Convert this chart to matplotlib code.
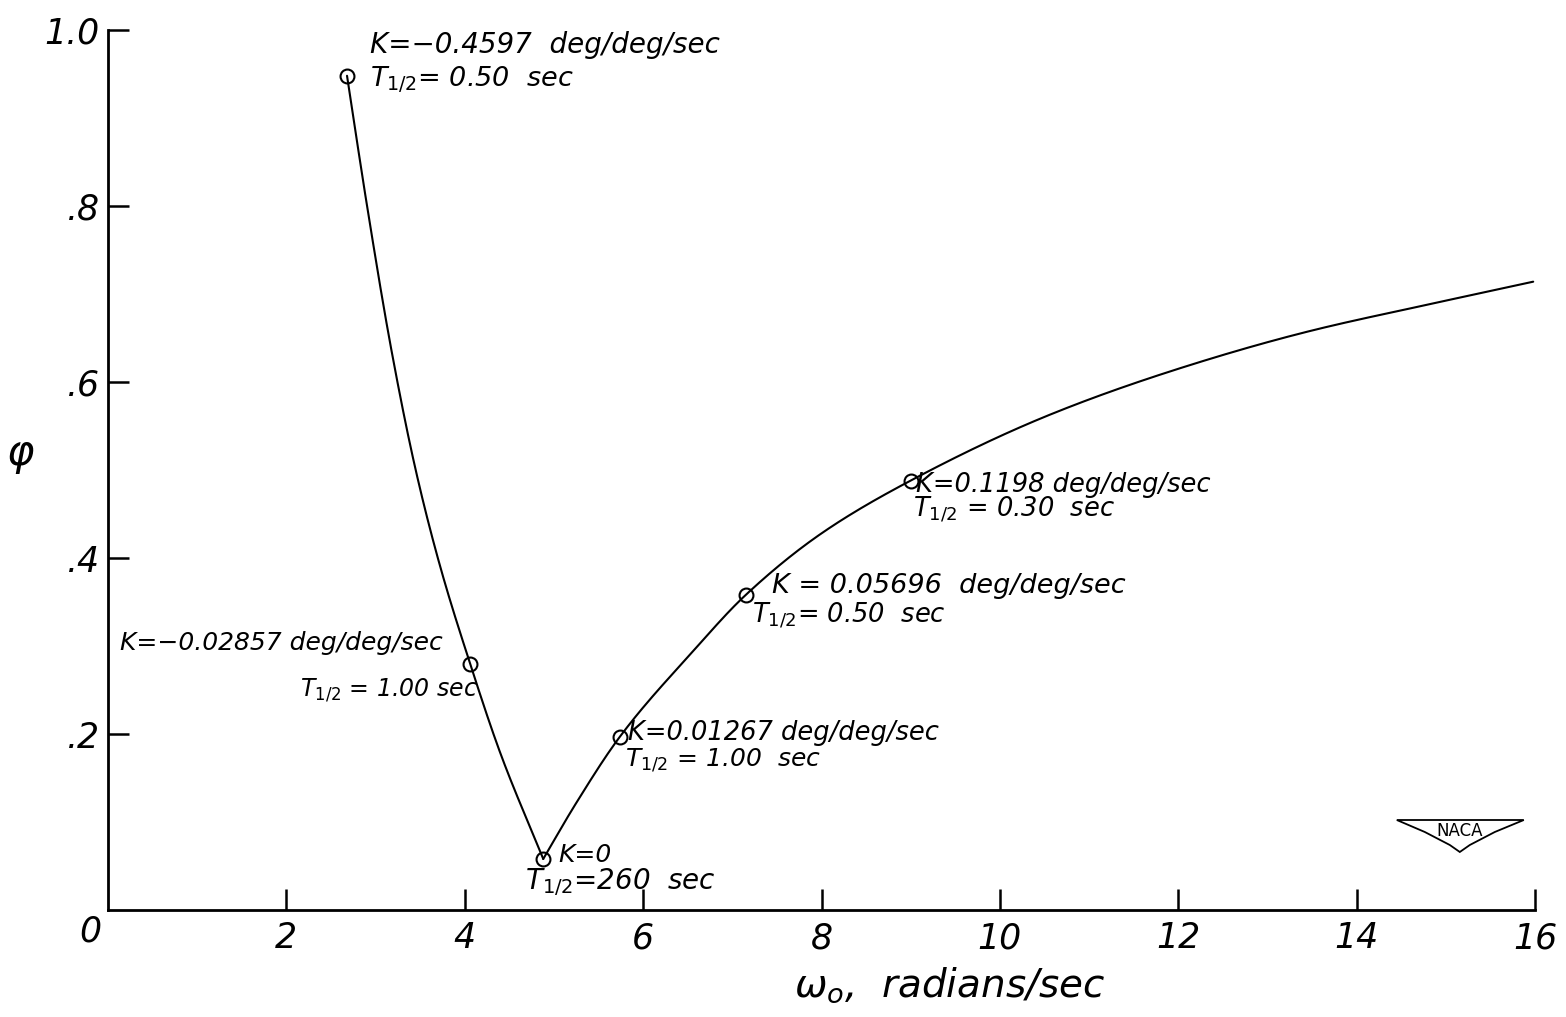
import numpy as np
import matplotlib
matplotlib.use("Agg")
import matplotlib.pyplot as plt
from matplotlib.patches import Polygon

plt.rcParams["font.family"] = ["DejaVu Sans"]
plt.rcParams["mathtext.fontset"] = "dejavusans"
plt.rcParams["mathtext.default"] = "it"

# Natural frequency (rad/sec) vs. damping ratio along the faired curve
curve_left_w = [2.68, 2.90, 3.18, 3.45, 3.72, 4.06, 4.40, 4.88]
curve_left_z = [0.948, 0.803, 0.635, 0.500, 0.392, 0.280, 0.178, 0.058]
curve_right_w = [4.88, 5.24, 5.74, 6.55, 7.15, 8.00, 9.00, 10.54, 12.0, 13.44, 14.89, 15.98]
curve_right_z = [0.058, 0.120, 0.197, 0.293, 0.358, 0.428, 0.488, 0.562, 0.615, 0.657, 0.690, 0.714]

# Computed design points (circles)
point_w = [2.68, 4.06, 4.88, 5.74, 7.15, 9.00]
point_z = [0.948, 0.280, 0.058, 0.197, 0.358, 0.488]

k_labels = ["K=\u22120.4597  deg/deg/sec", "K=\u22120.02857 deg/deg/sec", "K=0",
            "K=0.01267 deg/deg/sec", "K = 0.05696  deg/deg/sec", "K=0.1198 deg/deg/sec"]
t_labels = ["T$_{1/2}$= 0.50  sec", "T$_{1/2}$ = 1.00 sec", "T$_{1/2}$=260  sec",
            "T$_{1/2}$ = 1.00  sec", "T$_{1/2}$= 0.50  sec", "T$_{1/2}$ = 0.30  sec"]

x_ticks = [2, 4, 6, 8, 10, 12, 14, 16]
y_ticks = [0.2, 0.4, 0.6, 0.8, 1.0]
y_tick_labels = [".2", ".4", ".6", ".8", "1.0"]


def faired(xs, ys, n=400):
    """Monotone cubic (Fritsch-Carlson) fairing through the points, for a smooth pen line."""
    x = np.asarray(xs, float)
    y = np.asarray(ys, float)
    h = np.diff(x)
    d = np.diff(y) / h
    m = np.zeros_like(x)
    m[0], m[-1] = d[0], d[-1]
    for i in range(1, len(x) - 1):
        if d[i - 1] * d[i] > 0:
            w1 = 2 * h[i] + h[i - 1]
            w2 = h[i] + 2 * h[i - 1]
            m[i] = (w1 + w2) / (w1 / d[i - 1] + w2 / d[i])
    xx = np.linspace(x[0], x[-1], n)
    k = np.clip(np.searchsorted(x, xx) - 1, 0, len(x) - 2)
    t = (xx - x[k]) / h[k]
    h00 = 2 * t ** 3 - 3 * t ** 2 + 1
    h10 = t ** 3 - 2 * t ** 2 + t
    h01 = -2 * t ** 3 + 3 * t ** 2
    h11 = t ** 3 - t ** 2
    yy = h00 * y[k] + h10 * h[k] * m[k] + h01 * y[k + 1] + h11 * h[k] * m[k + 1]
    return xx, yy


W, H = 1566, 1017
fig = plt.figure(figsize=(W / 100, H / 100), dpi=100)
ax = fig.add_axes([108 / W, 1 - 910 / H, (1535 - 108) / W, (910 - 30) / H])
ax.set_xlim(0, 16)
ax.set_ylim(0, 1.0)

for s in ("top", "right"):
    ax.spines[s].set_visible(False)
for s in ("left", "bottom"):
    ax.spines[s].set_linewidth(2.0)
    ax.spines[s].set_color("black")


def px(xp, yp):
    """Pixel position on the page to data coordinates."""
    return (xp - 108) / 89.2, (910 - yp) / 880.0


for xs, ys in ((curve_left_w, curve_left_z), (curve_right_w, curve_right_z)):
    fx, fy = faired(xs, ys)
    ax.plot(fx, fy, color="black", lw=1.5, solid_capstyle="round")
ax.plot(point_w, point_z, ls="none", marker="o", ms=10, mfc="none", mec="black", mew=1.5)

ax.set_xticks(x_ticks)
ax.set_xticklabels([str(v) for v in x_ticks])
ax.set_yticks(y_ticks)
ax.set_yticklabels(y_tick_labels)
ax.tick_params(axis="x", direction="in", length=15, width=1.8, pad=8, labelsize=25)
ax.tick_params(axis="y", direction="in", length=15, width=1.8, pad=6, labelsize=25)
for lab in ax.get_xticklabels() + ax.get_yticklabels():
    lab.set_fontstyle("italic")
    lab.set_fontweight("light")

ax.text(*px(90, 932), "0", fontsize=25, style="italic", ha="center", va="center",
        clip_on=False)

# Annotations for each design point
k_pos = [(370, 45), (120, 643), (558, 855), (628, 733), (772, 586), (916, 485)]
k_size = [20, 18, 18, 18.5, 19.5, 18.5]
t_pos = [(370, 80), (300, 690), (525, 882), (625, 760), (752, 616), (913, 510)]
t_size = [19.5, 17, 20, 18, 18.5, 18.5]
for lab, (xp, yp), fs in zip(k_labels, k_pos, k_size):
    ax.text(*px(xp, yp), lab, fontsize=fs, style="italic", ha="left", va="center",
            clip_on=False)
for lab, (xp, yp), fs in zip(t_labels, t_pos, t_size):
    ax.text(*px(xp, yp), lab, fontsize=fs, style="italic", ha="left", va="center",
            clip_on=False)

# Axis titles
fig.text(950 / W, 1 - 985 / H, r"$\omega_o$,  radians/sec", fontsize=28, style="italic",
         ha="center", va="center")
fig.text(20 / W, 1 - 455 / H, r"$\varphi$", fontsize=30, ha="center", va="center")

# NACA wing emblem
wing = [px(1397, 820), px(1524, 820), px(1495, 832), px(1470, 845), px(1460, 852),
        px(1450, 845), px(1425, 832)]
ax.add_patch(Polygon(wing, closed=True, fill=False, ec="black", lw=1.3, clip_on=False))
ax.text(*px(1460, 831), "NACA", fontsize=12, ha="center", va="center", clip_on=False)

fig.savefig("out.png", dpi=100, facecolor="white")
